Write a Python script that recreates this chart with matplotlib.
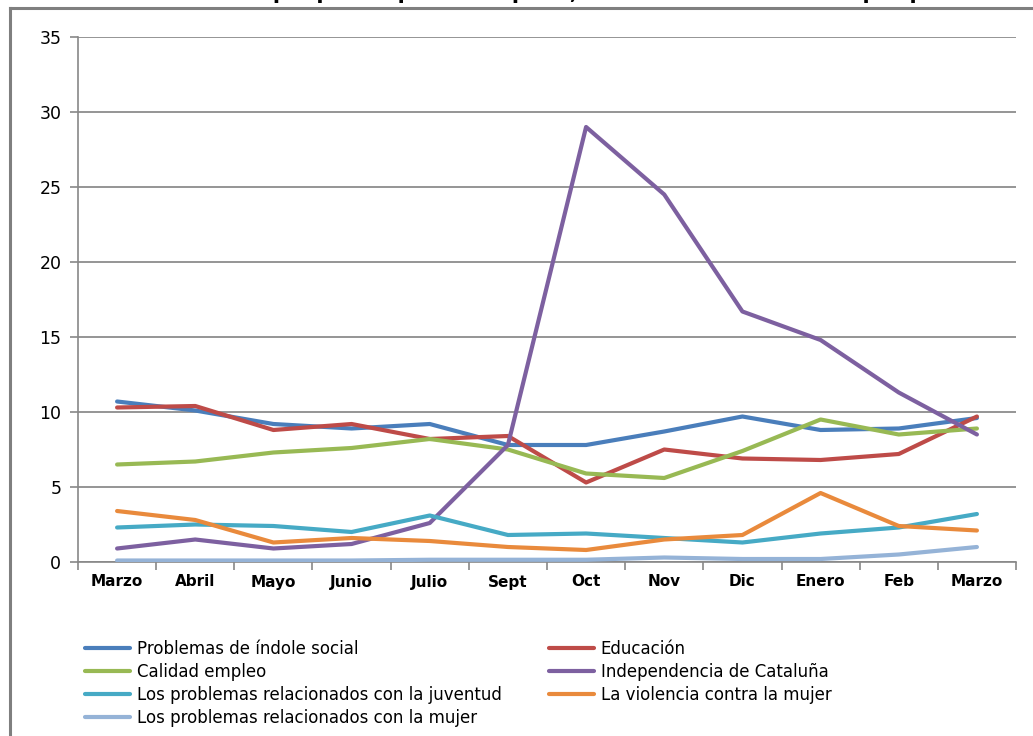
import matplotlib.pyplot as plt
import matplotlib.lines as mlines

meses = ["Marzo", "Abril", "Mayo", "Junio", "Julio", "Sept", "Oct", "Nov", "Dic", "Enero", "Feb", "Marzo"]

social = [10.7, 10.1, 9.2, 8.9, 9.2, 7.8, 7.8, 8.7, 9.7, 8.8, 8.9, 9.6]
educacion = [10.3, 10.4, 8.8, 9.2, 8.2, 8.4, 5.3, 7.5, 6.9, 6.8, 7.2, 9.7]
empleo = [6.5, 6.7, 7.3, 7.6, 8.2, 7.5, 5.9, 5.6, 7.4, 9.5, 8.5, 8.9]
cataluna = [0.9, 1.5, 0.9, 1.2, 2.6, 7.8, 29.0, 24.5, 16.7, 14.8, 11.3, 8.5]
juventud = [2.3, 2.5, 2.4, 2.0, 3.1, 1.8, 1.9, 1.6, 1.3, 1.9, 2.3, 3.2]
violencia = [3.4, 2.8, 1.3, 1.6, 1.4, 1.0, 0.8, 1.5, 1.8, 4.6, 2.4, 2.1]
mujer = [0.1, 0.1, 0.1, 0.1, 0.15, 0.15, 0.15, 0.3, 0.2, 0.2, 0.5, 1.0]

series = [
    ("Problemas de índole social", social, "#4A7EBB"),
    ("Educación", educacion, "#BE4B48"),
    ("Calidad empleo", empleo, "#98B954"),
    ("Independencia de Cataluña", cataluna, "#7D60A0"),
    ("Los problemas relacionados con la juventud", juventud, "#46AAC5"),
    ("La violencia contra la mujer", violencia, "#E98A3C"),
    ("Los problemas relacionados con la mujer", mujer, "#95B3D7"),
]

W, H = 1033, 736
fig = plt.figure(figsize=(W / 100, H / 100), dpi=100)
ax = fig.add_axes([78 / W, 1 - 562 / H, (1016 - 78) / W, (562 - 37) / H])

x = list(range(len(meses)))
lines = {}
for nombre, vals, col in series:
    ln, = ax.plot(x, vals, color=col, lw=3.0, solid_capstyle="round", solid_joinstyle="round", zorder=3)
    lines[nombre] = ln

ax.set_xlim(-0.5, len(meses) - 0.5)
ax.set_ylim(0, 35)
ax.set_yticks(range(0, 36, 5))
ax.set_xticks(x)
ax.set_xticklabels(meses, fontweight="bold", fontsize=11)
ax.set_xticks([i - 0.5 for i in range(len(meses) + 1)], minor=True)
ax.tick_params(axis="x", which="major", length=0, pad=9)
ax.tick_params(axis="x", which="minor", length=6, color="#888888", width=1.2)
ax.tick_params(axis="y", length=6, color="#888888", width=1.2, labelsize=12.5, pad=6)
ax.grid(axis="y", color="#8c8c8c", lw=1.3, zorder=0)
for s in ["top", "right"]:
    ax.spines[s].set_visible(False)
for s in ["left", "bottom"]:
    ax.spines[s].set_color("#888888")
    ax.spines[s].set_linewidth(1.2)

# marco de la figura
fig.add_artist(mlines.Line2D([10 / W, 10 / W], [0, 1 - 8 / H], color="#7f7f7f", lw=2.2))
fig.add_artist(mlines.Line2D([10 / W, 1], [1 - 8 / H, 1 - 8 / H], color="#7f7f7f", lw=2.2))

# titulo (cortado arriba como en el original)
fig.text(520 / W, 1 + 1 / H, "Gráfico 11. Temas que preocupan en España, evolución de los temas por puntos",
         ha="center", va="baseline", fontsize=15, fontweight="bold")

orden = ["Problemas de índole social", "Calidad empleo", "Los problemas relacionados con la juventud",
         "Los problemas relacionados con la mujer", "Educación", "Independencia de Cataluña",
         "La violencia contra la mujer"]
fig.legend([lines[n] for n in orden], orden, loc="upper left", bbox_to_anchor=(70 / W, 1 - 625 / H),
           ncol=2, frameon=False, handlelength=2.7, handletextpad=0.4, columnspacing=2.85,
           labelspacing=0.3, prop={"size": 12})

fig.savefig("out.png", dpi=100)
